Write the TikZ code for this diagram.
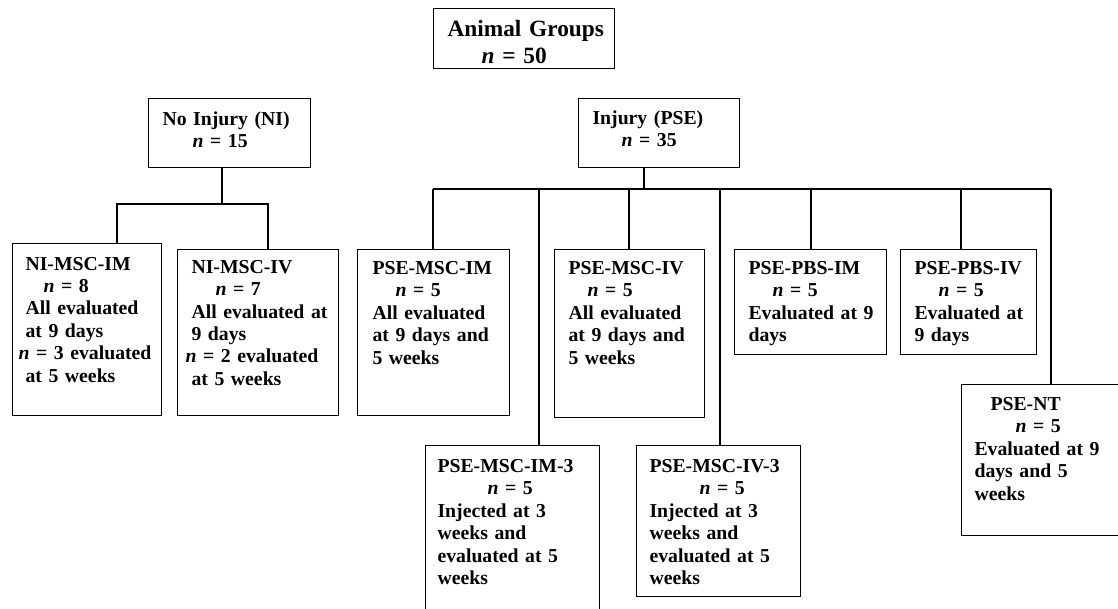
\documentclass[tikz,border=0pt]{standalone}
\usepackage{fontspec}
\setmainfont{Liberation Serif}
\newcommand{\ncount}[1]{\textit{n} = #1}

\begin{document}
\begin{tikzpicture}[x=0.75pt,y=-0.75pt,
    grp/.style={draw, line width=0.8pt, anchor=north west, inner sep=0pt,
      text height=18.75pt, font=\bfseries\fontsize{14.8}{16.8}\selectfont},
    link/.style={line width=0.8pt}]
  \clip (0,0) rectangle (1118,609);
  % top level
  \node[grp, text width=135.75pt, text height=21pt, text depth=24pt,
    font=\bfseries\fontsize{17.5}{20.25}\selectfont] (ag) at (433,8)
    {\leftskip=10.5pt Animal Groups\\\hspace*{25.5pt}\ncount{50}\par};
  \node[grp, text width=121.5pt, text height=20.25pt, text depth=31.5pt] (ni) at (148,98)
    {\leftskip=10.5pt No Injury (NI)\\\hspace*{22.5pt}\ncount{15}\par};
  \node[grp, text width=120.75pt, text height=19.5pt, text depth=32.25pt] (pse) at (578,98)
    {\leftskip=10.5pt Injury (PSE)\\\hspace*{21.75pt}\ncount{35}\par};
  % no injury groups
  \node[grp, text width=111.75pt, text height=20pt, text depth=109pt] (nim) at (12,243)
    {\leftskip=9.75pt NI-MSC-IM\\\hspace*{13.5pt}\ncount{8}\\All evaluated\\at 9 days\\
     \hspace*{-5.25pt}\ncount{3} evaluated\\at 5 weeks\par};
  \node[grp, text width=120.75pt, text height=17.8pt, text depth=106.7pt] (niv) at (177,249)
    {\leftskip=10.5pt NI-MSC-IV\\\hspace*{18pt}\ncount{7}\\All evaluated at\\9 days\\
     \hspace*{-4.5pt}\ncount{2} evaluated\\at 5 weeks\par};
  % injury groups
  \node[grp, text width=114pt, text depth=105.75pt] (pmim) at (357,249)
    {\leftskip=11.25pt PSE-MSC-IM\\\hspace*{17.25pt}\ncount{5}\\All evaluated\\at 9 days and\\5 weeks\par};
  \node[grp, text width=112.5pt, text depth=107.25pt] (pmiv) at (554,249)
    {\leftskip=10.5pt PSE-MSC-IV\\\hspace*{14.25pt}\ncount{5}\\All evaluated\\at 9 days and\\5 weeks\par};
  \node[grp, text width=114pt, text depth=60pt] (ppim) at (734,249)
    {\leftskip=10.5pt PSE-PBS-IM\\\hspace*{18pt}\ncount{5}\\Evaluated at 9\\days\par};
  \node[grp, text width=102pt, text depth=60pt] (ppiv) at (900,249)
    {\leftskip=10.5pt PSE-PBS-IV\\\hspace*{18pt}\ncount{5}\\Evaluated at\\9 days\par};
  \node[grp, text width=123.75pt, text height=19.5pt, text depth=93.75pt] (pnt) at (961,384)
    {\leftskip=9.75pt \hspace*{12pt}PSE-NT\\\hspace*{30.75pt}\ncount{5}\\Evaluated at 9\\days and 5\\weeks\par};
  \node[grp, text width=130.5pt, text height=20.25pt, text depth=111pt] (pmim3) at (425,445)
    {\leftskip=9pt PSE-MSC-IM-3\\\hspace*{37.5pt}\ncount{5}\\Injected at 3\\weeks and\\evaluated at 5\\weeks\par};
  \node[grp, text width=123pt, text height=20.25pt, text depth=93pt] (pmiv3) at (636,445)
    {\leftskip=9.75pt PSE-MSC-IV-3\\\hspace*{37.5pt}\ncount{5}\\Injected at 3\\weeks and\\evaluated at 5\\weeks\par};
  % connectors
  \coordinate (nibar) at (222,204);
  \coordinate (psebar) at (644,189);
  \draw[link] (nibar |- ni.south) -- (nibar);
  \draw[link] (117,204 |- nim.north) -- (117,204) -- (268,204) -- (268,204 |- niv.north);
  \draw[link] (psebar |- pse.south) -- (psebar);
  \draw[link] (433,189) -- (1051,189);
  \foreach \x/\n in {433/pmim, 539/pmim3, 629/pmiv, 720/pmiv3, 811/ppim, 961/ppiv, 1051/pnt}
    \draw[link] (\x,189) -- (\x,189 |- \n.north);
\end{tikzpicture}
\end{document}
